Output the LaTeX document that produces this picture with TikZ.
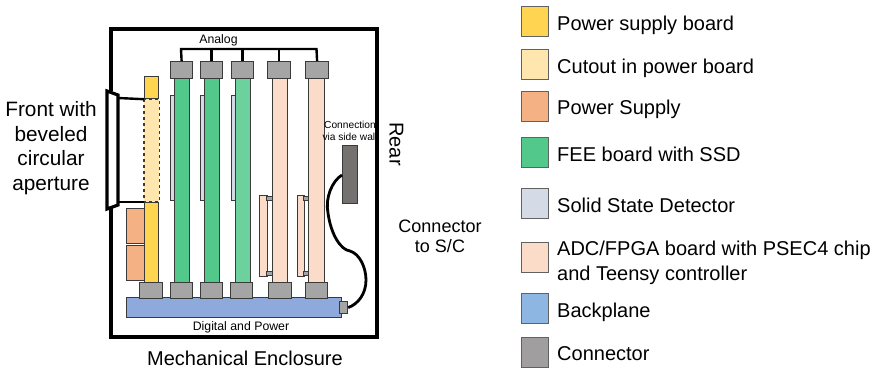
\documentclass[tikz,border=0pt]{standalone}
\usepackage{fontspec}
\setmainfont{Liberation Sans}
\definecolor{psb}{HTML}{FFD451}
\definecolor{cut}{HTML}{FFE6AE}
\definecolor{psu}{HTML}{F4B183}
\definecolor{fee}{HTML}{52C98A}
\definecolor{ssd}{HTML}{D4DBE6}
\definecolor{adc}{HTML}{FBDCC8}
\definecolor{bpl}{HTML}{8EA9DB}
\definecolor{bpk}{HTML}{8DB7E2}
\definecolor{con}{HTML}{A5A5A5}
\definecolor{lcon}{HTML}{A09E9E}
\definecolor{side}{HTML}{767171}
\definecolor{edge}{HTML}{3A3A3A}
\tikzset{
 box/.style={draw=edge,line width=1.2pt},
 wall/.style={draw=black,line width=4pt,line join=miter},
 wire/.style={draw=black,line width=2.4pt},
 keybox/.style={draw=edge!80,line width=1.2pt,minimum width=27pt,minimum height=30pt,inner sep=0pt,anchor=north west},
 keytext/.style={anchor=base west,font=\fontsize{20}{24}\selectfont,inner sep=0pt},
 keytwo/.style={anchor=west,font=\fontsize{20}{25}\selectfont,align=left,inner sep=0pt},
 big/.style={font=\fontsize{20.8}{24.5}\selectfont,align=center,inner sep=0pt},
 tiny/.style={font=\fontsize{12.3}{14}\selectfont,inner sep=0pt},
}
\newcommand{\pbox}[6]{\node[box,fill=#2,minimum width=#5pt-#3pt,minimum height=#6pt-#4pt,inner sep=0pt,anchor=north west] (#1) at (#3,#4) {};}
\begin{document}
\begin{tikzpicture}[x=1pt,y=-1pt]
\useasboundingbox (0,0) rectangle (873,368);
% enclosure
\coordinate (wa) at (111,91);
\coordinate (wb) at (111,29);
\coordinate (wc) at (377,29);
\coordinate (wd) at (377,337);
\coordinate (we) at (111,337);
\coordinate (wf) at (111,207);
\draw[wall] (wa) -- (wb) -- (wc) -- (wd) -- (we) -- (wf);
\draw[draw=black,line width=3.2pt,line join=miter] (107,91) -- (118,95) -- (118,205) -- (107,209) -- cycle;
% power board
\pbox{ptop}{psb}{144}{76}{158}{98}
\pbox{pbot}{psb}{144}{202}{158}{282}
\draw[draw=edge,line width=1.1pt,dashed,fill=cut] (ptop.south west) rectangle (pbot.north east);
\coordinate (fu) at (118,98);
\coordinate (fl) at (118,202);
\draw[wire] (fu) -- (ptop.south west);
\draw[wire] (fl) -- (pbot.north west);
% power supplies
\pbox{ps1}{psu}{126}{208}{144}{243}
\pbox{ps2}{psu}{126}{245}{144}{280}
% detectors
\pbox{ss1}{ssd}{169.5}{95}{173.5}{200}
\pbox{ss2}{ssd}{200}{95}{204}{200}
\pbox{ss3}{ssd}{230.5}{95}{234.5}{200}
% FEE boards
\pbox{fe1}{fee}{173.5}{78}{189}{282}
\pbox{fe2}{fee}{204}{78}{219}{282}
\pbox{fe3}{fee!85!white}{234.5}{78}{249.5}{282}
% ADC boards
\pbox{ad1}{adc}{272}{78}{287}{282}
\pbox{ad2}{adc}{308}{78}{324}{282}
\pbox{ps3}{adc}{259}{195}{267}{276}
\pbox{ps4}{adc}{297}{195}{304}{276}
\pbox{t1}{con}{266}{196}{272}{200}
\pbox{t2}{con}{266}{271}{272}{275}
\pbox{t3}{con}{303}{196}{308}{200}
\pbox{t4}{con}{303}{271}{308}{275}
% backplane
\pbox{bp}{bpl}{126}{297}{341}{317}
% top connectors
\pbox{c1}{con}{170}{61}{192}{78}
\pbox{c2}{con}{200}{61}{222}{78}
\pbox{c3}{con}{231}{61}{253}{78}
\pbox{c4}{con}{267}{61}{290}{78}
\pbox{c5}{con}{305}{61}{328}{78}
% bottom connectors
\pbox{d0}{con}{139}{282}{162}{298}
\pbox{d1}{con}{170}{282}{192}{298}
\pbox{d2}{con}{200}{282}{222}{298}
\pbox{d3}{con}{230}{282}{252}{298}
\pbox{d4}{con}{268}{282}{291}{298}
\pbox{d5}{con}{305}{282}{327}{298}
% analog bus
\coordinate (b1) at (181,49);
\coordinate (b5) at (316.5,49);
\draw[wire,line join=miter] (c1.north) -- (b1) -- (b5) -- (c5.north);
\foreach \n in {c2,c3,c4} \draw[wire] (\n.north) -- (\n.north |- b1);
% side connector and cable
\pbox{sw}{side}{342}{145}{357}{203}
\pbox{sc}{con}{339}{301}{347}{313}
\draw[wire,line width=2.8pt] (sw.west |- 0,175) .. controls (332,181) and (325,198) .. (328,213)
  .. controls (331,235) and (341,250) .. (350,251)
  .. controls (360,254) and (366,268) .. (366,280)
  .. controls (366,294) and (358,304) .. (sc.east);
% labels
\node[tiny] (lana) at (218.5,40) {Analog};
\node[tiny] (ldig) at (241,327) {Digital and Power};
\node[font=\fontsize{10.2}{12}\selectfont,inner sep=0pt,align=center] (lcon) at (350,131) {Connection\\[-.5pt]via side wall};
\node[font=\fontsize{20}{22}\selectfont,rotate=-90,inner sep=0pt] (lrear) at (396.5,144) {Rear};
\node[font=\fontsize{18}{20}\selectfont,align=center,inner sep=0pt] (lcs) at (440,236) {Connector\\to S/C};
\node[big] (lfront) at (51,148) {Front with\\beveled\\circular\\aperture};
\node[font=\fontsize{20}{22}\selectfont,inner sep=0pt] (lmech) at (245,358) {Mechanical Enclosure};
% legend
\node[keybox,fill=psb] (k1) at (520.5,6) {};
\node[keytext] (t1x) at (557,30) {Power supply board};
\node[keybox,fill=cut] (k2) at (520.5,49) {};
\node[keytext] (t2x) at (557,73) {Cutout in power board};
\node[keybox,fill=psu] (k3) at (520.5,90.5) {};
\node[keytext] (t3x) at (557,114) {Power Supply};
\node[keybox,fill=fee] (k4) at (520.5,137) {};
\node[keytext] (t4x) at (557,161) {FEE board with SSD};
\node[keybox,fill=ssd] (k5) at (520.5,188) {};
\node[keytext] (t5x) at (557,212) {Solid State Detector};
\node[keybox,fill=adc] (k6) at (520.5,241.5) {};
\node[keytwo] (t6x) at (557,262.5) {ADC/FPGA board with PSEC4 chip\\and Teensy controller};
\node[keybox,fill=bpk] (k7) at (520.5,293) {};
\node[keytext] (t7x) at (557,317) {Backplane};
\node[keybox,fill=lcon] (k8) at (520.5,336.5) {};
\node[keytext] (t8x) at (557,360) {Connector};
\end{tikzpicture}
\end{document}
